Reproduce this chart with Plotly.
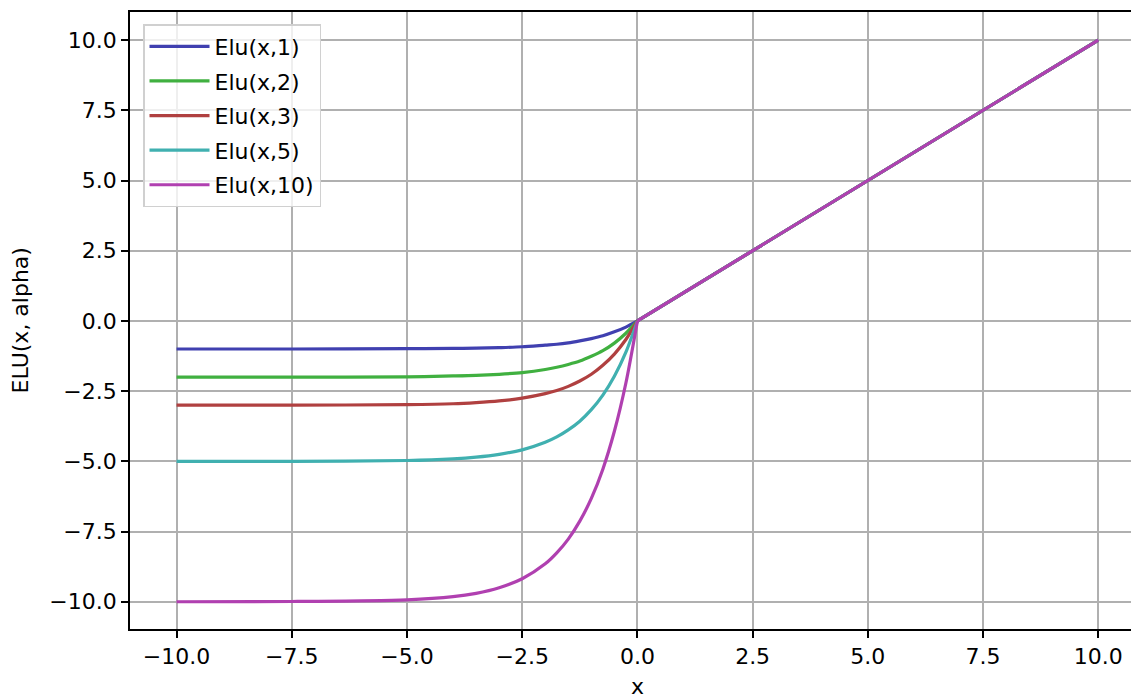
import plotly.graph_objects as go

# x positions (negative side) and positive side
x_neg = [-10, -7.5, -5, -4, -3.5, -3, -2.5, -2, -1.75, -1.5, -1.25, -1, -0.75, -0.5, -0.25, 0]
x_pos = [0, 2.5, 5, 7.5, 10]

labels = ["Elu(x,1)", "Elu(x,2)", "Elu(x,3)", "Elu(x,5)", "Elu(x,10)"]

y_a1 = [-1.0, -1.0, -0.99, -0.98, -0.97, -0.95, -0.92, -0.86, -0.83, -0.78, -0.71, -0.63, -0.53, -0.39, -0.22, 0]
y_a2 = [-2.0, -2.0, -1.99, -1.96, -1.94, -1.90, -1.84, -1.73, -1.65, -1.55, -1.43, -1.26, -1.06, -0.79, -0.44, 0]
y_a3 = [-3.0, -3.0, -2.98, -2.95, -2.91, -2.85, -2.75, -2.59, -2.48, -2.33, -2.14, -1.90, -1.58, -1.18, -0.66, 0]
y_a5 = [-5.0, -5.0, -4.97, -4.91, -4.85, -4.75, -4.59, -4.32, -4.13, -3.88, -3.57, -3.16, -2.64, -1.97, -1.11, 0]
y_a10 = [-10.0, -9.99, -9.93, -9.82, -9.70, -9.50, -9.18, -8.65, -8.26, -7.77, -7.13, -6.32, -5.28, -3.93, -2.21, 0]
y_pos = [0, 2.5, 5, 7.5, 10]

series_neg = [y_a1, y_a2, y_a3, y_a5, y_a10]
colors = ["#4040b0", "#40b040", "#b04040", "#40b0b0", "#b040b0"]

y_ticks = [-10.0, -7.5, -5.0, -2.5, 0.0, 2.5, 5.0, 7.5, 10.0]
x_ticks = [-10.0, -7.5, -5.0, -2.5, 0.0, 2.5, 5.0, 7.5, 10.0]

fig = go.Figure()
for lab, yn, col in zip(labels, series_neg, colors):
    fig.add_trace(go.Scatter(x=x_neg, y=yn, mode="lines", name=lab, legendgroup=lab,
                             line=dict(color=col, width=3.2, shape="spline", smoothing=0.8)))
    fig.add_trace(go.Scatter(x=x_pos, y=y_pos, mode="lines", name=lab, legendgroup=lab,
                             showlegend=False, line=dict(color=col, width=3.2)))

font = dict(family="DejaVu Sans", size=22, color="black")

fig.update_layout(
    width=1131, height=695,
    margin=dict(l=130, r=0, t=12, b=66),
    plot_bgcolor="white", paper_bgcolor="white",
    font=font,
    showlegend=True,
    legend=dict(x=0.013, y=0.9805, xanchor="left", yanchor="top",
                bgcolor="rgba(255,255,255,0.8)", bordercolor="#d0d0d0", borderwidth=1.5,
                tracegroupgap=3, itemwidth=60,
                font=dict(family="DejaVu Sans", size=22, color="black")),
    xaxis=dict(range=[-11.01, 10.71], tickvals=x_ticks, tickformat=".1f",
               showgrid=True, gridcolor="#b0b0b0", gridwidth=1.6, zeroline=False,
               showline=True, linecolor="black", linewidth=1.8, mirror=True,
               ticks="outside", ticklen=7, tickwidth=1.6, tickcolor="black",
               tickfont=font),
    yaxis=dict(range=[-10.97, 11.0], tickvals=y_ticks, tickformat=".1f",
               showgrid=True, gridcolor="#b0b0b0", gridwidth=1.6, zeroline=False,
               showline=True, linecolor="black", linewidth=1.8, mirror=False,
               ticks="outside", ticklen=7, tickwidth=1.6, tickcolor="black",
               tickfont=font),
    annotations=[
        dict(text="ELU(x, alpha)", xref="paper", yref="paper", x=-0.109, y=0.5,
             xanchor="center", yanchor="middle", textangle=-90, showarrow=False, font=font),
        dict(text="x", xref="paper", yref="paper", x=(637 - 130) / 1001, y=-0.0924,
             xanchor="center", yanchor="middle", showarrow=False, font=font),
    ],
)

fig.write_html("out.html")
